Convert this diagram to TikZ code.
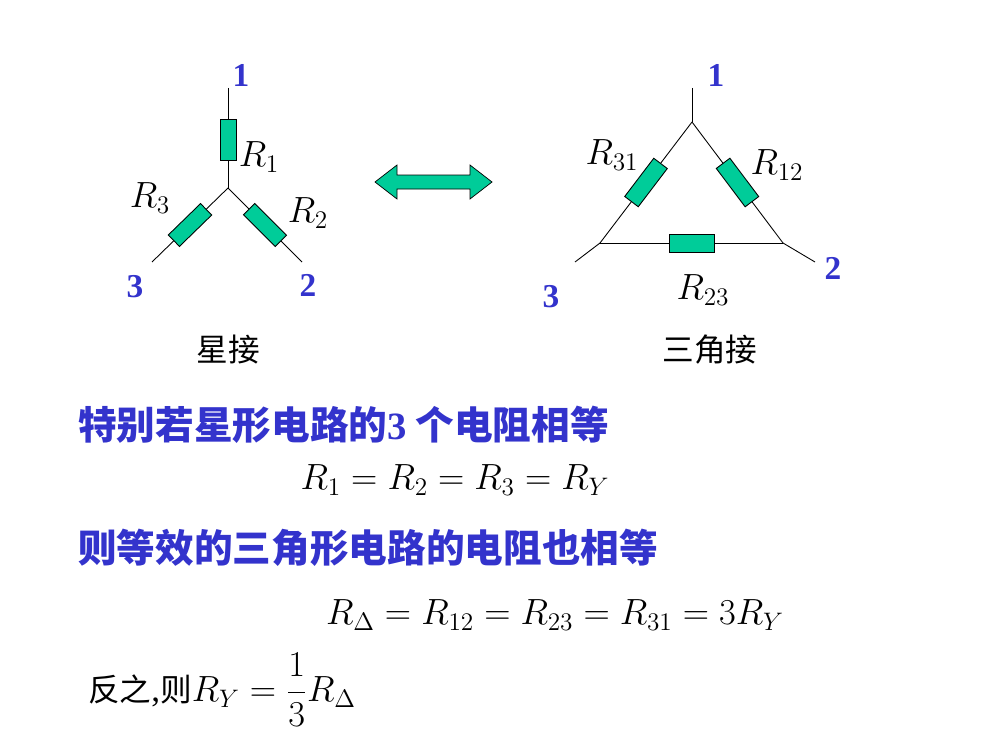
\documentclass[tikz,border=0pt]{standalone}
\usepackage{amsmath}
\usepackage{fontspec}
\setmainfont{Liberation Serif}
\newfontfamily\cjk{Noto Sans CJK SC}
\usetikzlibrary{positioning}
\definecolor{resgreen}{RGB}{0,204,153}
\definecolor{txtblue}{RGB}{51,51,204}

\begin{document}
\begin{tikzpicture}[x=0.02cm, y=-0.02cm,
    % Styles
    res/.style={draw, fill=resgreen, minimum width=0.9cm, minimum height=0.34cm, inner sep=0pt, sloped},
    wire/.style={line width=0.5pt},
    term/.style={font=\fontsize{19}{19}\selectfont\bfseries, txtblue},
    rlab/.style={font=\fontsize{20}{20}\selectfont},
    caption/.style={font=\fontsize{18}{18}\selectfont\cjk},
    blue/.style={font=\fontsize{22}{22}\selectfont\cjk\bfseries, txtblue, anchor=west},
    eq/.style={font=\fontsize{20}{20}\selectfont},
]
\useasboundingbox (0,0) rectangle (1000,750);

% Star
\coordinate (s1) at (228,88);
\coordinate (sc) at (228,188);
\coordinate (s3) at (152,262);
\coordinate (s2) at (302,262);
\draw[wire] (s1) -- node[res, pos=0.52, minimum width=0.82cm, minimum height=0.32cm] {} (sc);
\draw[wire] (sc) -- node[res, pos=0.5, minimum height=0.32cm] {} (s3);
\draw[wire] (sc) -- node[res, pos=0.5, minimum height=0.32cm] {} (s2);
\node[term] (n1) at (241,75) {1};
\node[term] (n3) at (135,287) {3};
\node[term] (n2) at (308,285) {2};
\node[rlab] (r1) at (259,157) {$R_1$};
\node[rlab] (r3) at (150,198) {$R_3$};
\node[rlab] (r2) at (308,213) {$R_2$};
\node[caption] (star) at (228,350) {星接};

% Double arrow
\draw[fill=resgreen] (375,182) -- (397,165) -- (397,175) -- (470,175) -- (470,165)
  -- (492,182) -- (470,199) -- (470,189) -- (397,189) -- (397,199) -- cycle;

% Delta
\coordinate (d1) at (692,88);
\coordinate (dt) at (692,122);
\coordinate (dl) at (600,243);
\coordinate (dr) at (783,243);
\coordinate (d3) at (575,262);
\coordinate (d2) at (815,262);
\draw[wire] (d1) -- (dt);
\draw[wire] (dl) -- (d3);
\draw[wire] (dr) -- (d2);
\draw[wire] (dt) -- node[res, minimum width=0.96cm] {} (dl);
\draw[wire] (dt) -- node[res, minimum width=0.96cm] {} (dr);
\draw[wire] (dl) -- node[res, minimum width=0.9cm, minimum height=0.36cm] {} (dr);
\node[term] (m1) at (716,75) {1};
\node[term] (m3) at (551,297) {3};
\node[term] (m2) at (833,268) {2};
\node[rlab] (r31) at (612,155) {$R_{31}$};
\node[rlab] (r12) at (777,165) {$R_{12}$};
\node[rlab] (r23) at (703,290) {$R_{23}$};
\node[caption] (delta) at (710,350) {三角接};

% Text
\node[blue] (t1) at (72,425) {特别若星形电路的{\fontspec{Liberation Serif}3} 个电阻相等};
\node[eq] (e1) at (455,480) {$R_1=R_2=R_3=R_Y$};
\node[blue] (t2) at (72,548) {则等效的三角形电路的电阻也相等};
\node[eq] (e2) at (555,615) {$R_\Delta=R_{12}=R_{23}=R_{31}=3R_Y$};
\node[eq, anchor=west] (e3) at (82,690) {{\cjk\fontsize{18}{18}\selectfont 反之},{\cjk\fontsize{18}{18}\selectfont 则}$R_Y=\dfrac13R_\Delta$};
\end{tikzpicture}
\end{document}
